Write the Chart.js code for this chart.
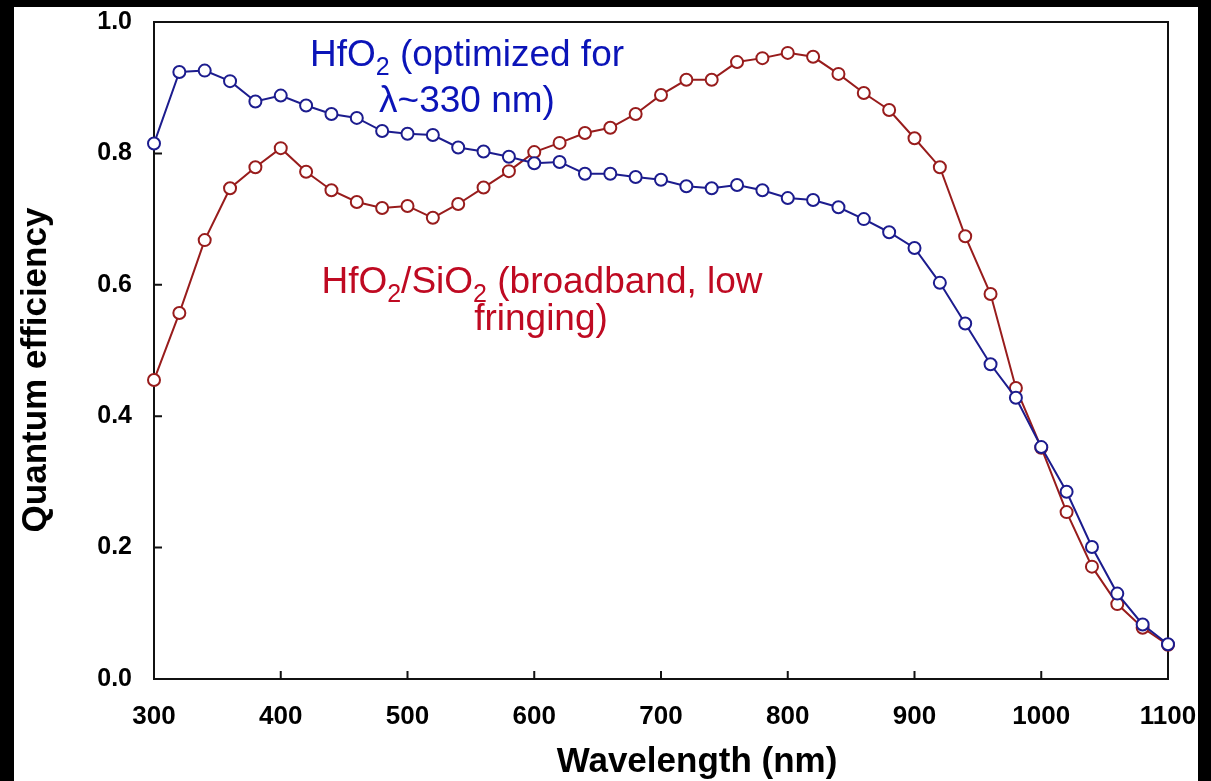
<!DOCTYPE html>
<html>
<head>
<meta charset="utf-8">
<script src="https://cdn.jsdelivr.net/npm/chart.js@4.4.1/dist/chart.umd.min.js"></script>
<style>
  html, body { margin: 0; background: #000; width: 1211px; height: 781px; overflow: hidden; }
  #painel { position: absolute; left: 14px; top: 7px; width: 1184px; height: 774px; background: #fff; }
</style>
</head>
<body>
<div id="painel"><canvas id="graficoQE" width="1184" height="774"></canvas></div>
<script>
// comprimentos de onda (nm)
const comprimentos = [300, 320, 340, 360, 380, 400, 420, 440, 460, 480, 500, 520, 540, 560, 580, 600, 620, 640, 660, 680,
                      700, 720, 740, 760, 780, 800, 820, 840, 860, 880, 900, 920, 940, 960, 980, 1000, 1020, 1040, 1060, 1080, 1100];

// HfO2 (otimizado para ~330 nm)
const qeHfO2 = [0.815, 0.924, 0.926, 0.910, 0.879, 0.888, 0.873, 0.860, 0.854, 0.834, 0.830, 0.828, 0.809, 0.803, 0.795,
                0.785, 0.787, 0.769, 0.769, 0.764, 0.760, 0.750, 0.747, 0.752, 0.744, 0.732, 0.729, 0.718, 0.700, 0.680,
                0.656, 0.603, 0.541, 0.479, 0.428, 0.353, 0.285, 0.201, 0.130, 0.083, 0.053];

// HfO2/SiO2 (banda larga)
const qeHfO2SiO2 = [0.455, 0.557, 0.668, 0.747, 0.779, 0.808, 0.772, 0.744, 0.726, 0.717, 0.720, 0.702, 0.723, 0.748, 0.773,
                    0.802, 0.816, 0.831, 0.839, 0.860, 0.889, 0.912, 0.912, 0.939, 0.945, 0.953, 0.947, 0.921, 0.892, 0.866,
                    0.823, 0.779, 0.674, 0.586, 0.443, 0.352, 0.254, 0.171, 0.114, 0.078, 0.052];

const ticksX = [300, 400, 500, 600, 700, 800, 900, 1000, 1100];
const ticksY = [0.0, 0.2, 0.4, 0.6, 0.8, 1.0];

const FONTE = '"Liberation Sans", Arial, Helvetica, sans-serif';

// escreve texto com subscritos centrado em cx
function textoComSub(ctx, partes, cx, y, tam, cor) {
    const subTam = Math.round(tam * 0.68);
    let total = 0;
    partes.forEach(p => {
        ctx.font = (p.sub ? subTam : tam) + 'px ' + FONTE;
        total += ctx.measureText(p.t).width;
    });
    let x = cx - total / 2;
    ctx.fillStyle = cor;
    ctx.textAlign = 'left';
    ctx.textBaseline = 'alphabetic';
    partes.forEach(p => {
        ctx.font = (p.sub ? subTam : tam) + 'px ' + FONTE;
        ctx.fillText(p.t, x, p.sub ? y + 9 : y);
        x += ctx.measureText(p.t).width;
    });
}

const moldura = {
    id: 'moldura',
    beforeDatasetsDraw(chart) {
        const { ctx, chartArea: a, scales } = chart;
        ctx.save();
        ctx.strokeStyle = '#111';
        ctx.lineWidth = 2;
        ctx.strokeRect(a.left, a.top, a.right - a.left, a.bottom - a.top);
        ctx.beginPath();
        scales.x.ticks.forEach(t => {
            if (t.value <= scales.x.min || t.value >= scales.x.max) return;
            const px = scales.x.getPixelForValue(t.value);
            ctx.moveTo(px, a.bottom);
            ctx.lineTo(px, a.bottom - 8);
        });
        scales.y.ticks.forEach(t => {
            if (t.value <= scales.y.min || t.value >= scales.y.max) return;
            const py = scales.y.getPixelForValue(t.value);
            ctx.moveTo(a.left, py);
            ctx.lineTo(a.left + 8, py);
        });
        ctx.stroke();
        ctx.restore();
    },
    afterDraw(chart) {
        const ctx = chart.ctx;
        ctx.save();
        // títulos dos eixos
        ctx.fillStyle = '#000';
        ctx.font = 'bold 35px ' + FONTE;
        ctx.textAlign = 'center';
        ctx.textBaseline = 'alphabetic';
        ctx.fillText('Wavelength (nm)', 683, 765);
        ctx.translate(32, 363);
        ctx.rotate(-Math.PI / 2);
        ctx.fillText('Quantum efficiency', 0, 0);
        ctx.restore();

        ctx.save();
        const azul = '#0b14b8';
        const vermelho = '#bf0a22';
        textoComSub(ctx, [{ t: 'HfO' }, { t: '2', sub: true }, { t: ' (optimized for' }], 453, 59, 37, azul);
        textoComSub(ctx, [{ t: 'λ~330 nm)' }], 453, 105, 37, azul);
        textoComSub(ctx, [{ t: 'HfO' }, { t: '2', sub: true }, { t: '/SiO' }, { t: '2', sub: true }, { t: ' (broadband, low' }], 528, 286, 37, vermelho);
        textoComSub(ctx, [{ t: 'fringing)' }], 527, 323, 37, vermelho);
        ctx.restore();
    }
};

function renderizarGraficoQE() {
    const canvas = document.getElementById('graficoQE');
    if (!canvas) return;
    const antigo = Chart.getChart('graficoQE');
    if (antigo) antigo.destroy();

    const serie = (valores) => comprimentos.map((c, i) => ({ x: c, y: valores[i] }));
    const estiloPonto = (cor) => ({
        borderColor: cor,
        pointBorderColor: cor,
        pointBackgroundColor: '#fff',
        pointRadius: 6,
        pointBorderWidth: 2,
        borderWidth: 2,
        tension: 0,
        clip: false
    });

    new Chart(canvas, {
        type: 'line',
        data: {
            datasets: [
                Object.assign({ label: 'HfO2', data: serie(qeHfO2) }, estiloPonto('#1c1c8e')),
                Object.assign({ label: 'HfO2/SiO2', data: serie(qeHfO2SiO2) }, estiloPonto('#981c1c'))
            ]
        },
        options: {
            responsive: false,
            animation: false,
            events: [],
            layout: { padding: { left: 0, top: 15, right: 30, bottom: 0 } },
            plugins: { legend: { display: false }, tooltip: { enabled: false } },
            scales: {
                x: {
                    type: 'linear',
                    min: 300,
                    max: 1100,
                    // sem folga extra para os rótulos das pontas
                    afterFit: s => { s.height = 102; s.paddingLeft = 0; s.paddingRight = 0; },
                    afterBuildTicks: s => { s.ticks = ticksX.map(v => ({ value: v })); },
                    grid: { display: false, drawTicks: false },
                    border: { display: false },
                    ticks: {
                        padding: 22,
                        color: '#000',
                        maxRotation: 0,
                        autoSkip: false,
                        font: { family: FONTE, size: 26, weight: 'bold' },
                        callback: v => String(v)
                    }
                },
                y: {
                    type: 'linear',
                    min: 0,
                    max: 1,
                    afterFit: s => { s.width = 140; s.paddingTop = 0; s.paddingBottom = 0; },
                    afterBuildTicks: s => { s.ticks = ticksY.map(v => ({ value: v })); },
                    grid: { display: false, drawTicks: false },
                    border: { display: false },
                    ticks: {
                        padding: 22,
                        color: '#000',
                        autoSkip: false,
                        font: { family: FONTE, size: 25, weight: 'bold' },
                        callback: v => Number(v).toFixed(1)
                    }
                }
            }
        },
        plugins: [moldura]
    });
}

renderizarGraficoQE();
</script>
</body>
</html>
